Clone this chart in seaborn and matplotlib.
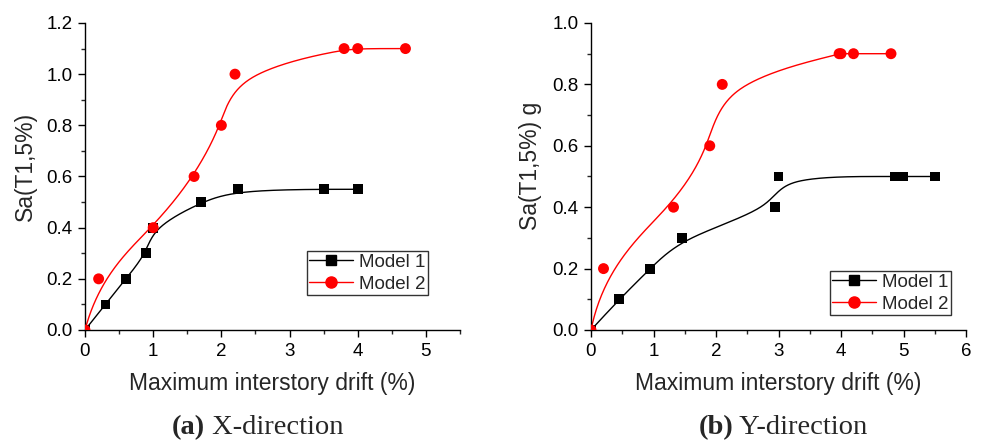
import numpy as np
import matplotlib
matplotlib.use("Agg")
import matplotlib.pyplot as plt
import seaborn as sns
from matplotlib.lines import Line2D
from matplotlib.ticker import MultipleLocator, FormatStrFormatter

# ---- data ----
x_m1_a = [0.0, 0.3, 0.6, 0.9, 1.0, 1.7, 2.25, 3.5, 4.0]
y_m1_a = [0.0, 0.1, 0.2, 0.3, 0.4, 0.5, 0.55, 0.55, 0.55]
x_m2_a = [0.0, 0.2, 1.0, 1.6, 2.0, 2.2, 3.8, 4.0, 4.7]
y_m2_a = [0.0, 0.2, 0.4, 0.6, 0.8, 1.0, 1.1, 1.1, 1.1]

x_m1_b = [0.0, 0.45, 0.95, 1.45, 2.95, 3.0, 4.87, 5.0, 5.5]
y_m1_b = [0.0, 0.1, 0.2, 0.3, 0.4, 0.5, 0.5, 0.5, 0.5]
x_m2_b = [0.0, 0.2, 1.32, 1.9, 2.1, 3.97, 4.0, 4.2, 4.8]
y_m2_b = [0.0, 0.2, 0.4, 0.6, 0.8, 0.9, 0.9, 0.9, 0.9]

series_names = ["Model 1", "Model 2"]
x_label = "Maximum interstory drift (%)"
y_labels = ["Sa(T1,5%)", "Sa(T1,5%) g"]
captions = [("(a)", " X-direction"), ("(b)", " Y-direction")]


def bspline(xs, ys, k=3, n=400):
    P = np.column_stack([xs, ys])
    m = len(P)
    inner = np.linspace(0, 1, m - k + 1)
    t = np.concatenate([np.zeros(k), inner, np.ones(k)])
    u = np.linspace(0, 1, n)
    u[-1] = 1 - 1e-12

    def N(i, p, uu):
        if p == 0:
            return np.where((t[i] <= uu) & (uu < t[i + 1]), 1.0, 0.0)
        a = 0.0
        d1 = t[i + p] - t[i]
        if d1 > 0:
            a = (uu - t[i]) / d1 * N(i, p - 1, uu)
        b = 0.0
        d2 = t[i + p + 1] - t[i + 1]
        if d2 > 0:
            b = (t[i + p + 1] - uu) / d2 * N(i + 1, p - 1, uu)
        return a + b

    C = np.zeros((n, 2))
    for i in range(m):
        C += N(i, k, u)[:, None] * P[i]
    return C[:, 0], C[:, 1]


sns.set_style("ticks")
plt.rcParams["font.family"] = ["Liberation Sans", "DejaVu Sans"]

fig = plt.figure(figsize=(9.81, 4.42), dpi=100)
ax1 = fig.add_axes([85 / 981, 1 - 330 / 442, 375 / 981, 307 / 442])
ax2 = fig.add_axes([591 / 981, 1 - 330 / 442, 375 / 981, 307 / 442])

panels = [
    (ax1, (x_m1_a, y_m1_a), (x_m2_a, y_m2_a), 5.5, 1.2),
    (ax2, (x_m1_b, y_m1_b), (x_m2_b, y_m2_b), 6.0, 1.0),
]

legend_boxes = [(307, 248, 428, 295), (830, 268, 951, 315)]
ylabel_x = [-0.128, -0.131]

for idx, (ax, s1, s2, xmax, ymax) in enumerate(panels):
    for (xs, ys), col, mk, ms in [(s1, "black", "s", 50), (s2, "red", "o", 62)]:
        cx, cy = bspline(xs, ys)
        sns.lineplot(x=cx, y=cy, ax=ax, color=col, lw=1.0, sort=False, estimator=None)
        sns.scatterplot(x=xs, y=ys, ax=ax, color=col, marker=mk, s=ms, edgecolor="none",
                        zorder=3)
    ax.set_xlim(0, xmax)
    ax.set_ylim(0, ymax)
    ax.xaxis.set_major_locator(MultipleLocator(1))
    ax.xaxis.set_minor_locator(MultipleLocator(0.5))
    ax.yaxis.set_major_locator(MultipleLocator(0.2))
    ax.yaxis.set_minor_locator(MultipleLocator(0.1))
    ax.yaxis.set_major_formatter(FormatStrFormatter("%.1f"))
    sns.despine(ax=ax)
    for sp in ["left", "bottom"]:
        ax.spines[sp].set_linewidth(1.0)
        ax.spines[sp].set_color("black")
    ax.tick_params(which="major", direction="out", length=5, width=1, labelsize=13.5,
                   colors="black", pad=4)
    ax.tick_params(which="minor", direction="out", length=3, width=1)
    ax.set_xlabel(x_label, fontsize=16.5, labelpad=9)
    ax.set_ylabel(y_labels[idx], fontsize=16.5)
    ax.yaxis.set_label_coords(ylabel_x[idx], 0.534)
    handles = [
        Line2D([], [], color="black", marker="s", ms=7, lw=1.0),
        Line2D([], [], color="red", marker="o", ms=8, lw=1.0),
    ]
    x0, y0, x1, y1 = legend_boxes[idx]
    leg = fig.legend(handles, series_names, loc="lower right",
                     bbox_to_anchor=(x1 / 981, 1 - y1 / 442),
                     fontsize=13.5, frameon=True, fancybox=False, edgecolor="black",
                     handlelength=2.35, handletextpad=0.3, borderpad=0.13, labelspacing=0.25,
                     borderaxespad=0)
    leg.get_frame().set_linewidth(1.0)

fig.canvas.draw()
renderer = fig.canvas.get_renderer()
cap_x = [257.5 / 981, 783 / 981]
for cx, (bold, rest) in zip(cap_x, captions):
    t1 = fig.text(0, 8 / 442, bold, fontsize=20.5, fontweight="bold", family="Liberation Serif",
                  ha="left", va="baseline")
    t2 = fig.text(0, 8 / 442, rest, fontsize=20.5, family="Liberation Serif", ha="left",
                  va="baseline")
    w1 = t1.get_window_extent(renderer).width / 981
    w2 = t2.get_window_extent(renderer).width / 981
    start = cx - (w1 + w2) / 2
    t1.set_x(start)
    t2.set_x(start + w1)

fig.savefig("out.png", dpi=100)
